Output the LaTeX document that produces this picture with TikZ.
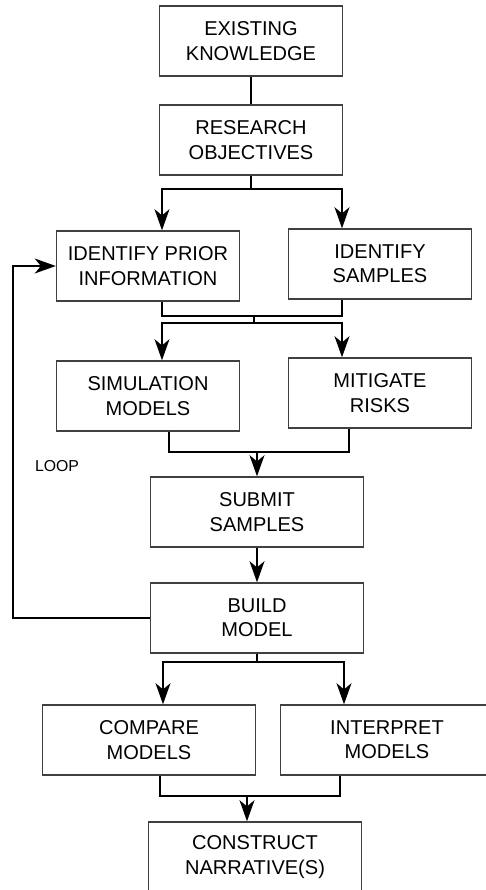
\documentclass[tikz,border=0pt]{standalone}
\usepackage{fontspec}
\setmainfont{Liberation Sans}
\usepackage{tikz}
\usetikzlibrary{calc}
\usetikzlibrary{arrows.meta, positioning}

\begin{document}
\begin{tikzpicture}[x=0.02cm, y=-0.02cm,
    box/.style={rectangle, draw=black!75, line width=0.8pt, minimum width=3.66cm, minimum height=1.4cm, align=center, font=\fontsize{11.4}{13.8}\selectfont},
    wbox/.style={box, minimum width=4.26cm},
    link/.style={line width=1.1pt},
    arr/.style={link, -{Stealth[length=12pt, width=8.5pt, inset=3.5pt]}}]
    \useasboundingbox (0,0) rectangle (486,890);
    \node[box] (know) at (251,41) {EXISTING\\KNOWLEDGE};
    \node[box] (obj) at (251,140) {RESEARCH\\OBJECTIVES};
    \node[box] (prior) at (148,266) {IDENTIFY PRIOR\\INFORMATION};
    \node[box] (samp) at (380,264) {IDENTIFY\\SAMPLES};
    \node[box] (sim) at (148,396) {SIMULATION\\MODELS};
    \node[box] (risk) at (380,393) {MITIGATE\\RISKS};
    \node[wbox] (submit) at (257,512) {SUBMIT\\SAMPLES};
    \node[wbox] (build) at (257,618) {BUILD\\MODEL};
    \node[wbox] (comp) at (149,740) {COMPARE\\MODELS};
    \node[wbox] (interp) at (387,740) {INTERPRET\\MODELS};
    \node[wbox] (narr) at (255,857) {CONSTRUCT\\NARRATIVE(S)};
    \node[font=\fontsize{9}{11}\selectfont] (loop) at (57,466) {LOOP};
    % junctions
    \coordinate (s1) at (251,189);
    \coordinate (m1) at (254,316);
    \coordinate (s2) at (254,323);
    \coordinate (m2) at (257,452);
    \coordinate (s3) at (257,662);
    \coordinate (m3) at (247,796);
    \coordinate (lp) at (13,0);
    \draw[link] (know) -- (obj);
    \draw[link] (obj.south) -- (s1);
    \draw[arr] (s1) -| ($(prior.north)+(14,0)$);
    \draw[arr] (s1) -| ($(samp.north)+(-38,0)$);
    \draw[link] ($(prior.south)+(14,0)$) |- (m1) -| ($(samp.south)+(-38,0)$);
    \draw[link] (m1) -- (s2);
    \draw[arr] (s2) -| ($(sim.north)+(14,0)$);
    \draw[arr] (s2) -| ($(risk.north)+(-38,0)$);
    \draw[link] ($(sim.south)+(21,0)$) |- (m2) -| ($(risk.south)+(-31,0)$);
    \draw[arr] (m2) -- (submit.north);
    \draw[arr] (submit) -- (build);
    % loop back
    \draw[arr] (build.west) -| (lp |- prior.west) -- (prior.west);
    \draw[link] (build.south) -- (s3);
    \draw[arr] (s3) -| ($(comp.north)+(14,0)$);
    \draw[arr] (s3) -| ($(interp.north)+(-43,0)$);
    \draw[link] ($(comp.south)+(11,0)$) |- (m3) -| ($(interp.south)+(-47,0)$);
    \draw[arr] (m3) -- (m3 |- narr.north);
\end{tikzpicture}
\end{document}
